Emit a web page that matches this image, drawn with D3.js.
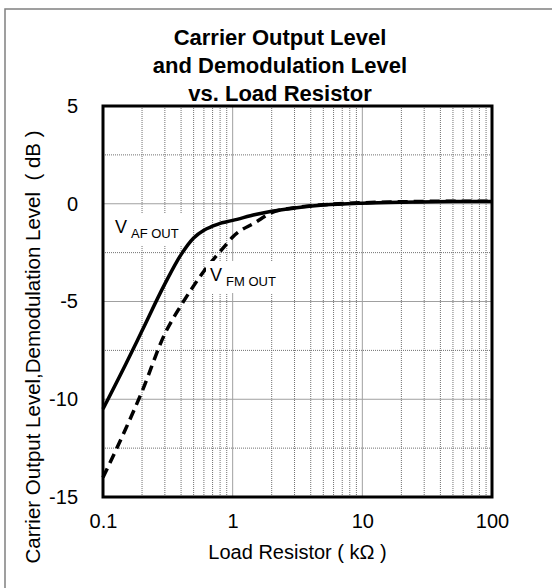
<!DOCTYPE html>
<html>
<head>
<meta charset="utf-8">
<script src="https://cdn.jsdelivr.net/npm/d3@7"></script>
<style>
  body { margin: 0; background: #fff; }
  svg { display: block; font-family: "Liberation Sans", Arial, sans-serif; }
  .grid-major line { stroke: #a0a0a0; stroke-width: 1; }
  .grid-minor line { stroke: #707070; stroke-width: 1; stroke-dasharray: 1,1; }
  .axis text { font-size: 20px; fill: #000; }
  .axis .domain { display: none; }
</style>
</head>
<body>
<svg width="552" height="588"></svg>
<script>
//data
const resistance = [0.1, 0.15, 0.2, 0.3, 0.4, 0.5, 0.6, 0.7, 0.8, 0.9, 1, 1.5, 2, 3, 5, 10, 20, 50, 100];
const afOut = [-10.5, -8.2, -6.5, -4.1, -2.6, -1.75, -1.35, -1.15, -1.0, -0.92, -0.85, -0.55, -0.38, -0.22, -0.07, 0.03, 0.08, 0.11, 0.12];
const fmOut = [-14, -11.5, -9.6, -6.65, -5.2, -4.2, -3.45, -2.9, -2.45, -2.05, -1.7, -0.95, -0.45, -0.2, -0.05, 0.05, 0.1, 0.13, 0.13];

const xTicks = [0.1, 1, 10, 100];
const xTickLabels = ["0.1", "1", "10", "100"];
const yTicks = [5, 0, -5, -10, -15];
const yMinor = [2.5, -2.5, -7.5, -12.5];

//constants
const margin = {top: 106, right: 60, bottom: 91, left: 103};
const width = 552 - margin.left - margin.right;
const height = 588 - margin.top - margin.bottom;

const svg = d3.select("svg");

//outer frame (only top and left show)
svg.append("path")
    .attr("d", "M5,588 L5,9 L552,9")
    .attr("fill", "none")
    .attr("stroke", "#808080")
    .attr("stroke-width", 1.5);

//title
const title = svg.append("text")
    .attr("x", 280)
    .attr("text-anchor", "middle")
    .style("font-size", "22px")
    .style("font-weight", "bold");
["Carrier Output Level", "and Demodulation Level", "vs. Load Resistor"].forEach((t, i) => {
    title.append("tspan").attr("x", 280).attr("y", 45 + i * 28).text(t);
});

const g = svg.append("g")
    .attr("transform", "translate(" + margin.left + "," + margin.top + ")");

//scales
const xScale = d3.scaleLog().domain([0.1, 100]).range([0, width]);
const yScale = d3.scaleLinear().domain([-15, 5]).range([height, 0]);

//minor vertical grid values 2..9 per decade
let xMinor = [];
[0.1, 1, 10].forEach(dec => {
    for (let k = 2; k <= 9; k++) xMinor.push(dec * k);
});

//grid
g.append("g").attr("class", "grid-minor")
    .selectAll("line").data(xMinor).enter().append("line")
    .attr("x1", d => xScale(d)).attr("x2", d => xScale(d))
    .attr("y1", 0).attr("y2", height);

g.append("g").attr("class", "grid-minor")
    .selectAll("line").data(yMinor).enter().append("line")
    .attr("x1", 0).attr("x2", width)
    .attr("y1", d => yScale(d)).attr("y2", d => yScale(d));

g.append("g").attr("class", "grid-major")
    .selectAll("line").data(xTicks.slice(1, -1)).enter().append("line")
    .attr("x1", d => xScale(d)).attr("x2", d => xScale(d))
    .attr("y1", 0).attr("y2", height);

g.append("g").attr("class", "grid-major")
    .selectAll("line").data(yTicks.slice(1, -1)).enter().append("line")
    .attr("x1", 0).attr("x2", width)
    .attr("y1", d => yScale(d)).attr("y2", d => yScale(d));

//lines
const line = (vals) => d3.line()
    .x((d, i) => xScale(resistance[i]))
    .y(d => yScale(d))
    .curve(d3.curveMonotoneX)(vals);

g.append("path")
    .attr("d", line(fmOut))
    .attr("fill", "none")
    .attr("stroke", "#000")
    .attr("stroke-width", 3.5)
    .attr("stroke-dasharray", "10,6");

g.append("path")
    .attr("d", line(afOut))
    .attr("fill", "none")
    .attr("stroke", "#000")
    .attr("stroke-width", 3.5);

//series labels with white boxes
function seriesLabel(x, y, sub, boxW) {
    g.append("rect")
        .attr("x", x - 4).attr("y", y - 20)
        .attr("width", boxW).attr("height", 32)
        .attr("fill", "#fff");
    const t = g.append("text")
        .attr("x", x).attr("y", y)
        .style("font-size", "18px");
    t.append("tspan").text("V");
    t.append("tspan")
        .attr("dx", 4).attr("dy", 5)
        .style("font-size", "13px")
        .text(sub);
}
seriesLabel(12, 127, "AF OUT", 74);
seriesLabel(107, 175, "FM OUT", 72);

//plot border
g.append("rect")
    .attr("width", width)
    .attr("height", height)
    .attr("fill", "none")
    .attr("stroke", "#000")
    .attr("stroke-width", 3);

//axes
g.append("g")
    .attr("class", "axis")
    .attr("transform", "translate(0," + height + ")")
    .call(d3.axisBottom(xScale)
        .tickValues(xTicks)
        .tickFormat((d, i) => xTickLabels[i])
        .tickSize(0)
        .tickPadding(17));

g.append("g")
    .attr("class", "axis")
    .call(d3.axisLeft(yScale)
        .tickValues(yTicks)
        .tickFormat(d => String(d))
        .tickSize(0)
        .tickPadding(25));

//axis labels
svg.append("text")
    .attr("x", margin.left + width / 2)
    .attr("y", 559)
    .attr("text-anchor", "middle")
    .style("font-size", "20px")
    .text("Load Resistor ( k\u03A9 )");

svg.append("text")
    .attr("transform", "translate(40,347) rotate(-90)")
    .attr("text-anchor", "middle")
    .style("font-size", "20.5px")
    .style("white-space", "pre")
    .text("Carrier Output Level,Demodulation Level  ( dB )");
</script>
</body>
</html>
